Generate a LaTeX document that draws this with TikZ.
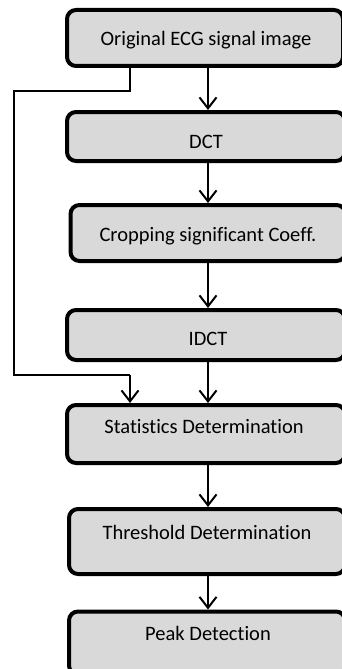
\documentclass[tikz,border=0pt]{standalone}
\usepackage{fontspec}
\setmainfont[Ligatures=NoCommon]{Carlito}
\usetikzlibrary{arrows.meta}
\definecolor{boxgray}{HTML}{D9D9D9}
\begin{document}
\begin{tikzpicture}[x=1pt,y=-1pt,
  procbox/.style={draw=black, fill=boxgray, line width=4pt, rounded corners=9pt, inner sep=0pt},
  lbl/.style={font=\fontsize{20.5}{24}\selectfont, inner sep=0pt, anchor=center},
  flow/.style={line width=2pt, -{Straight Barb[length=11pt,width=17pt,line width=2pt]}},
  link/.style={line width=2pt}]
\useasboundingbox (0,0) rectangle (342,669);
\node[procbox, minimum width=276pt, minimum height=56pt] (b1) at (205,38) {};
\node[procbox, minimum width=278pt, minimum height=49pt] (b2) at (206,136.5) {};
\node[procbox, minimum width=275pt, minimum height=56pt] (b3) at (208,233) {};
\node[procbox, minimum width=278pt, minimum height=50pt] (b4) at (206,335) {};
\node[procbox, minimum width=278pt, minimum height=58pt] (b5) at (206,434) {};
\node[procbox, minimum width=276pt, minimum height=65pt] (b6) at (207,541.5) {};
\node[procbox, minimum width=276pt, minimum height=63pt] (b7) at (207,643) {};
\node[lbl] (t1) at (206,40) {Original ECG signal image};
\node[lbl] (t2) at (206,142) {DCT};
\node[lbl] (t3) at (208,236) {Cropping significant Coeff.};
\node[lbl] (t4) at (208,339) {IDCT};
\node[lbl] (t5) at (204,427) {Statistics Determination};
\node[lbl] (t6) at (207,532) {Threshold Determination};
\node[lbl] (t7) at (208,633) {Peak Detection};
\draw[flow] (b1.south -| 208,0) -- (b2.north -| 208,0);
\draw[flow] (b2.south -| 208,0) -- (b3.north -| 208,0);
\draw[flow] (b3.south -| 208,0) -- (b4.north -| 208,0);
\draw[flow] (b4.south -| 208,0) -- (b5.north -| 208,0);
\draw[flow] (b5.south -| 208,0) -- (b6.north -| 208,0);
\draw[flow] (b6.south -| 208,0) -- (b7.north -| 208,0);
\coordinate (c1) at (130,91);
\coordinate (c2) at (14,91);
\coordinate (c3) at (14,375);
\coordinate (c4) at (130,375);
\draw[link] (b1.south -| c1) -- (c1) -- (c2) -- (c3) -- (c4);
\draw[flow] (c4) -- (b5.north -| c4);
\end{tikzpicture}
\end{document}
